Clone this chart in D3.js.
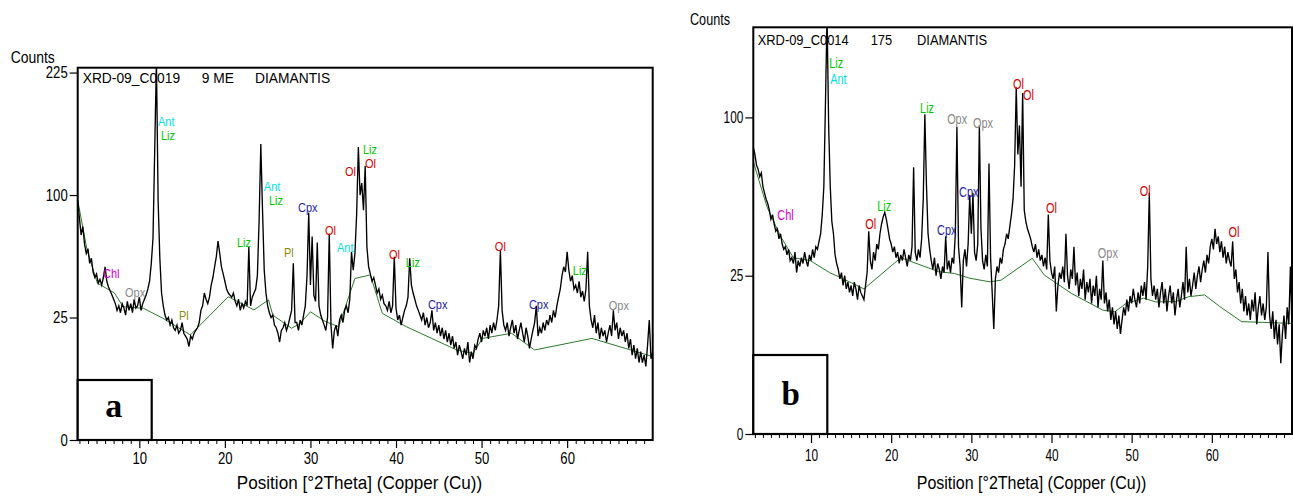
<!DOCTYPE html>
<html><head><meta charset="utf-8">
<script src="https://cdn.jsdelivr.net/npm/d3@7"></script>
<style>body{margin:0;background:#fff} svg{display:block}</style>
</head><body><svg id="c" width="1293" height="496"></svg>
<script>
// ---------------- DATA ----------------
const thetaStart = 2.8, thetaStep = 0.2;   // °2Theta grid of the scans
const xTickLabels = [10, 20, 30, 40, 50, 60];
const yTicksA = [0, 25, 100, 225];
const yTicksB = [0, 25, 100];
const titleA = ["XRD-09_C0019", "9 ME", "DIAMANTIS"];
const titleB = ["XRD-09_C0014", "175", "DIAMANTIS"];
const axisTitle = "Position [°2Theta] (Copper (Cu))";
const yAxisTitle = "Counts";
const panelLetters = ["a", "b"];

// counts of scan a, every 0.2° from 2.8° to 70°
const countsA = [
96,82,70,76,64,58,61,52,55,47,
44,46,41,43,40,44,50,42,39,37,
35,33,31,28,30,27,31,29,26,32,
28,31,27,33,29,30,34,28,31,33,
35,38,42,52,68,140,240,95,55,36,
30,26,24,25,22,24,21,20,22,19,
20,23,19,18,17,14.5,18,17,19,20,
21,23,28,30,36,33,31,34,40,44,
50,56,66,58,50,46,42,38,36,35,
34,36,32,30,33,28,31,29,32,30,
62,30,34,36,38,45,80,146,88,48,
36,30,27,25,26,22,21,19,16,20,
21,23,20,22,25,28,52,23,23,20,
24,22,26,30,45,86,40,69,35,32,
65,30,26,24,22,20,25,71,22,14,
20,22,18,24,26,23,28,30,27,33,
59,48,58,85,143,100,110,88,125,62,
50,46,42,44,40,36,38,33,35,31,
30,28,32,27,30,56,29,24,26,22,
25,28,30,34,55,40,36,33,30,28,
26,24,27,22,25,21,23,28,20,23,
19,22,18,21,17,20,16,19,15,18,
14,16,12,15,13,11,14,12,16,10,
13,11,15,14,17,19,16,20,18,21,
17,22,19,23,20,24,30,60,28,22,
20,23,18,21,24,19,22,17,20,23,
19,16,21,18,14,17,20,23,30,18,
21,19,23,20,24,22,26,23,28,25,
30,34,38,45,50,47,59,48,42,45,
38,40,36,42,34,37,32,38,59,30,
24,21,26,19,23,17,21,18,20,16,
19,22,18,28,20,23,17,21,18,20,
16,19,14,17,12,15,11,14,10,13,
10,12,9,15,24,11,13
];
// counts of scan b, every 0.2° from 2.8° to 70°
const countsB = [
82,78,72,70,66,68,61,58,55,53,
50,46,48,44,41,42,38,40,36,34,
35,32,34,30,31,29,33,26,30,28,
31,29,33,30,28,32,30,34,31,35,
34,37,40,48,61,109,175,95,61,45,
40,32,29,27,24,26,22,25,21,23,
20,22,19,23,21,18,22,20,19,18,
22,26,41,30,27,33,30,36,34,40,
44,47,49,46,42,38,36,33,35,31,
33,29,32,30,34,31,28,32,30,35,
71,33,30,34,31,38,55,102,62,40,
34,30,27,31,25,29,27,24,28,26,
39,27,30,26,31,29,40,94,35,28,
16,30,34,28,36,57,40,58,33,30,
36,95,42,30,27,32,28,73,31,20,
11,24,28,26,31,29,34,36,40,38,
43,48,55,72,120,78,95,61,116,50,
45,42,40,38,35,33,36,31,34,30,
32,28,31,27,48,30,26,24,28,15,
22,26,24,28,23,40,25,21,27,24,
35,22,26,19,24,21,27,18,23,20,
24,17,22,19,25,16,21,18,30,17,
20,15,18,13,16,12,15,11,14,10,
13,16,14,18,15,19,17,21,18,16,
20,17,22,19,23,18,28,58,24,19,
22,18,21,16,20,23,17,21,15,19,
22,17,20,14,18,21,16,19,23,18,
35,20,24,19,22,26,21,25,28,23,
27,30,26,32,29,35,38,34,42,36,
39,33,37,31,35,29,33,30,28,37,
24,27,20,23,17,21,15,19,14,17,
13,18,15,20,12,16,19,14,17,13,
16,33,14,11,15,9,13,8,12,5,
10,14,9,16,12,28,11
];

// fitted backgrounds [°2Theta, counts]
const backgroundA = [[2.8,96],[3.9,60],[5.1,41],[7.1,36],[8.1,29.6],[10.5,28.9],[12.75,24.7],[15.97,18.4],[20.4,34.2],[23.4,28.2],[25.1,32.7],[25.6,26],[27.8,20.8],[28.8,22.7],[30.0,27.4],[31.8,23.3],[33.3,21.4],[35.2,43.5],[37.0,45.4],[38.4,26.7],[41.2,21.4],[47.1,13.5],[49.0,12.5],[50.1,17.2],[53.5,19],[56.2,13.5],[62.9,17.2],[70,11.6]];
const backgroundB = [[2.8,74],[4.5,51.5],[6.2,39],[7.8,31],[9.9,30],[12.3,26],[13.6,24.5],[16.6,21],[21.2,31],[25.9,26.3],[27.9,25.7],[29.8,24.2],[32.3,23.1],[33.7,23.6],[37.6,30.8],[39.1,25.2],[42.5,19.7],[46.4,15.3],[47.9,14.9],[49.3,17],[51.5,18.4],[53.0,17.4],[55.5,17.5],[57.1,18.8],[59.1,19.3],[61.0,16.2],[63.7,12.6],[70,12.2]];

// phase identifications [phase, °2Theta, counts] (label anchor)
const peaksA = [["Ant",12.18,164],["Liz",12.53,150],["Ant",24.55,103],["Liz",25.15,92],["Liz",21.41,62],["Cpx",28.54,86.6],["Pl",26.9,55.8],["Ol",31.7,70],["Ant",33.1,58.9],["Ol",34.03,116],["Liz",36.13,136],["Ol",36.37,123],["Ol",39.17,54.6],["Liz",41.15,49.9],["Ol",51.55,59.5],["Liz",60.66,45.4],["Chl",5.76,43.7],["Opx",8.33,34.1],["Pl",14.64,24],["Cpx",43.73,28.6],["Cpx",55.53,28.6],["Opx",64.87,28.2]];
const peaksB = [["Liz",12.28,133.5],["Ant",12.4,122],["Chl",5.8,45.7],["Ol",16.76,41.9],["Liz",18.26,49.6],["Liz",23.61,102.7],["Opx",26.98,95.8],["Opx",30.21,93.4],["Cpx",28.47,56],["Cpx",25.73,39.5],["Ol",35.19,118.7],["Ol",36.44,111.2],["Ol",39.3,48.7],["Ol",51.0,56.5],["Ol",62.08,38.7],["Opx",45.78,30.9]];

const phaseColors = {Ant:"#00dede", Liz:"#00c800", Ol:"#d40000", Cpx:"#2222aa", Pl:"#8a8a00", Opx:"#888888", Chl:"#d000d0"};

// ---------------- LAYOUT ----------------
const panels = [
  {counts:countsA, bg:backgroundA, peaks:peaksA, yTicks:yTicksA, title:titleA, letter:panelLetters[0],
   yMax:231, left:77.7, right:652.7, top:67.7, bottom:440,
   tickFont:16, tickSx:0.82, xTickSize:8, xPad:5, yPad:2,
   titleDx:[5,124,177.3], titleDy:15.3, titleFont:15, titleSx:0.92,
   countsX:10.7, countsY:62.7, countsSx:0.87,
   xlabX:359.5, xlabY:489, xlabSx:0.95,
   boxW:74, boxH:60, letterDx:36, letterDy:23, letterFont:34,
   peakFont:12.5, peakSx:0.88},
  {counts:countsB, bg:backgroundB, peaks:peaksB, yTicks:yTicksB, title:titleB, letter:panelLetters[1],
   yMax:165, left:753.3, right:1292, top:27.3, bottom:434,
   tickFont:16, tickSx:0.74, xTickSize:9, xPad:7, yPad:2,
   titleDx:[4.4,117.4,163.7], titleDy:17.7, titleFont:15, titleSx:0.86,
   countsX:690, countsY:25, countsSx:0.79,
   xlabX:1031.5, xlabY:489, xlabSx:0.89,
   boxW:74, boxH:79, letterDx:37.4, letterDy:29, letterFont:33,
   peakFont:14, peakSx:0.78}
];

const FONT = "'Liberation Sans', Arial, sans-serif";
const svg = d3.select("#c");

function condensedText(g, x, y, str, size, sx, anchor, fill) {
  return g.append("text")
    .attr("transform", `translate(${x},${y}) scale(${sx},1)`)
    .attr("font-family", FONT).attr("font-size", size)
    .attr("text-anchor", anchor || "start")
    .attr("fill", fill || "#000")
    .text(str);
}

panels.forEach((p, i) => {
  const g = svg.append("g");
  const x = d3.scaleLinear().domain([thetaStart, 70]).range([p.left, p.right]);
  const y = d3.scaleSqrt().domain([0, p.yMax]).range([p.bottom, p.top]);

  const cid = "clip" + i;
  svg.append("defs").append("clipPath").attr("id", cid)
    .append("rect").attr("x", p.left).attr("y", p.top)
    .attr("width", p.right - p.left).attr("height", p.bottom - p.top);

  // x axis: minor + major ticks
  const minor = d3.range(3, 70.01, 1).filter(v => v % 10 !== 0);
  const gMinor = g.append("g").attr("transform", `translate(0,${p.bottom})`)
    .call(d3.axisBottom(x).tickValues(minor).tickSize(4).tickFormat(""));
  gMinor.select(".domain").remove();
  gMinor.selectAll("line").attr("stroke", "#000");
  const gx = g.append("g").attr("transform", `translate(0,${p.bottom})`)
    .call(d3.axisBottom(x).tickValues(xTickLabels).tickSize(p.xTickSize).tickPadding(p.xPad).tickFormat(d3.format("d")));
  gx.select(".domain").remove();
  gx.selectAll("line").attr("stroke", "#000").attr("stroke-width", 1.2);
  gx.selectAll("text").attr("font-family", FONT).attr("font-size", p.tickFont).attr("fill", "#000")
    .attr("transform", `scale(${p.tickSx},1)`);

  // y axis
  const gy = g.append("g").attr("transform", `translate(${p.left},0)`)
    .call(d3.axisLeft(y).tickValues(p.yTicks).tickSize(8).tickPadding(p.yPad).tickFormat(d3.format("d")));
  gy.select(".domain").remove();
  gy.selectAll("line").attr("stroke", "#000").attr("stroke-width", 1.2);
  gy.selectAll("text").attr("font-family", FONT).attr("font-size", p.tickFont).attr("fill", "#000")
    .attr("x", -(8 + p.yPad) / p.tickSx)
    .attr("transform", `scale(${p.tickSx},1)`);

  // title inside frame
  p.title.forEach((t, k) => condensedText(g, p.left + p.titleDx[k], p.top + p.titleDy, t, p.titleFont, p.titleSx));

  // background + pattern
  const line = d3.line().x(d => x(d[0])).y(d => y(d[1]));
  const scan = p.counts.map((c, k) => [thetaStart + k * thetaStep, c]);
  const plot = g.append("g").attr("clip-path", `url(#${cid})`);
  plot.append("path").datum(p.bg).attr("d", line)
    .attr("fill", "none").attr("stroke", "#2b7a2b").attr("stroke-width", 1);
  plot.append("path").datum(scan).attr("d", line)
    .attr("fill", "none").attr("stroke", "#000").attr("stroke-width", 1.35)
    .attr("stroke-linejoin", "miter");

  // phase labels
  p.peaks.forEach(([ph, th, c]) => condensedText(g, x(th), y(c), ph, p.peakFont, p.peakSx, "start", phaseColors[ph]));

  // frame
  g.append("rect").attr("x", p.left).attr("y", p.top)
    .attr("width", p.right - p.left).attr("height", p.bottom - p.top)
    .attr("fill", "none").attr("stroke", "#000").attr("stroke-width", 2);

  // panel letter box
  g.append("rect").attr("x", p.left).attr("y", p.bottom - p.boxH)
    .attr("width", p.boxW).attr("height", p.boxH)
    .attr("fill", "#fff").attr("stroke", "#000").attr("stroke-width", 2.2);
  g.append("text").attr("x", p.left + p.letterDx).attr("y", p.bottom - p.letterDy)
    .attr("text-anchor", "middle").attr("font-family", "'Liberation Serif', 'Times New Roman', serif")
    .attr("font-weight", "bold").attr("font-size", p.letterFont).attr("fill", "#000").text(p.letter);

  // axis titles
  condensedText(g, p.countsX, p.countsY, yAxisTitle, 16, p.countsSx);
  condensedText(g, p.xlabX, p.xlabY, axisTitle, 18, p.xlabSx, "middle");
});
</script></body></html>
